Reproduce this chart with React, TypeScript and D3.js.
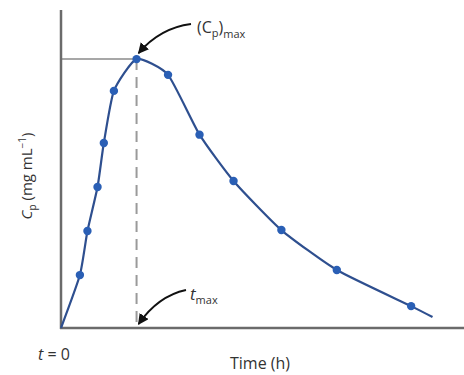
import { scaleLinear, line, curveCardinal } from "d3";

// sampled plasma concentration readings
const times = [0.75, 1.05, 1.45, 1.7, 2.1, 3.0, 4.25, 5.5, 6.85, 8.75, 10.95, 13.9];
const conc = [2.08, 3.81, 5.54, 7.27, 9.32, 10.57, 9.95, 7.6, 5.78, 3.85, 2.28, 0.86];
// fitted curve runs from dose time to a little past the last sample
const curveStart = [0, 0];
const curveEnd = [14.75, 0.43];
const tMax = 3.0;
const cMax = 10.57;

const W = 464;
const H = 375;
const origin = { x: 61, y: 328 };

export default function App() {
    const x = scaleLinear().domain([0, 16]).range([origin.x, 464]);
    const y = scaleLinear().domain([0, 12.5]).range([origin.y, 10]);

    const pts: [number, number][] = times.map((t, i) => [t, conc[i]]);
    const all: [number, number][] = [curveStart as [number, number], ...pts, curveEnd as [number, number]];

    const path = line<[number, number]>()
        .x((d) => x(d[0]))
        .y((d) => y(d[1]))
        .curve(curveCardinal.tension(0.45))(all);

    const px = x(tMax);
    const py = y(cMax);
    const font = "'Open Sans', 'Noto Sans', sans-serif";

    return (
        <svg
            width={W}
            height={H}
            style={{ position: "absolute", left: 0, top: 0, background: "#fff" }}
            fontFamily={font}
        >
            <defs>
                <marker id="head" viewBox="0 0 10 10" refX="9" refY="5" markerWidth="6" markerHeight="6" orient="auto">
                    <path d="M0,0 L10,5 L0,10 z" fill="#111" />
                </marker>
            </defs>

            {/* reference lines */}
            <line x1={origin.x} x2={px} y1={py} y2={py} stroke="#8a8a8a" strokeWidth={1.5} />
            <line x1={px} x2={px} y1={py} y2={origin.y} stroke="#9a9a9a" strokeWidth={2} strokeDasharray="11 7" />

            {/* axes */}
            <line x1={origin.x} x2={origin.x} y1={10} y2={origin.y + 1} stroke="#6b6b6b" strokeWidth={2.5} />
            <line x1={origin.x - 1} x2={W} y1={origin.y} y2={origin.y} stroke="#6b6b6b" strokeWidth={2.5} />

            {/* curve and samples */}
            <path d={path ?? ""} fill="none" stroke="#2e4f8f" strokeWidth={2.2} />
            {pts.map((d, i) => (
                <circle key={i} cx={x(d[0])} cy={y(d[1])} r={4.2} fill="#2a5fb5" />
            ))}

            {/* annotations */}
            <path d={`M191,24 Q160,28 ${px + 2},${py - 6}`} fill="none" stroke="#111" strokeWidth={1.8} markerEnd="url(#head)" />
            <text x={197} y={33} fontSize={16} fill="#333">
                (C<tspan fontSize={11} dy={4}>p</tspan>
                <tspan dy={-4}>)</tspan>
                <tspan fontSize={11} dy={5}>max</tspan>
            </text>

            <path d={`M186,290 Q158,296 ${px + 2},${origin.y - 4}`} fill="none" stroke="#111" strokeWidth={1.8} markerEnd="url(#head)" />
            <text x={190} y={300} fontSize={17} fill="#333">
                <tspan fontStyle="italic">t</tspan>
                <tspan fontSize={11} dy={4}>max</tspan>
            </text>

            <text x={38} y={360} fontSize={16} fill="#333">
                <tspan fontStyle="italic">t</tspan> = 0
            </text>
            <text x={230} y={369} fontSize={16} fill="#333">
                Time (h)
            </text>

            <text transform="translate(32,176) rotate(-90)" textAnchor="middle" fontSize={15} fill="#333">
                <tspan fontStyle="italic">C</tspan>
                <tspan fontSize={10} dy={4}>p</tspan>
                <tspan dy={-4}> (mg mL</tspan>
                <tspan fontSize={10} dy={-6}>−1</tspan>
                <tspan dy={6}>)</tspan>
            </text>
        </svg>
    );
}
